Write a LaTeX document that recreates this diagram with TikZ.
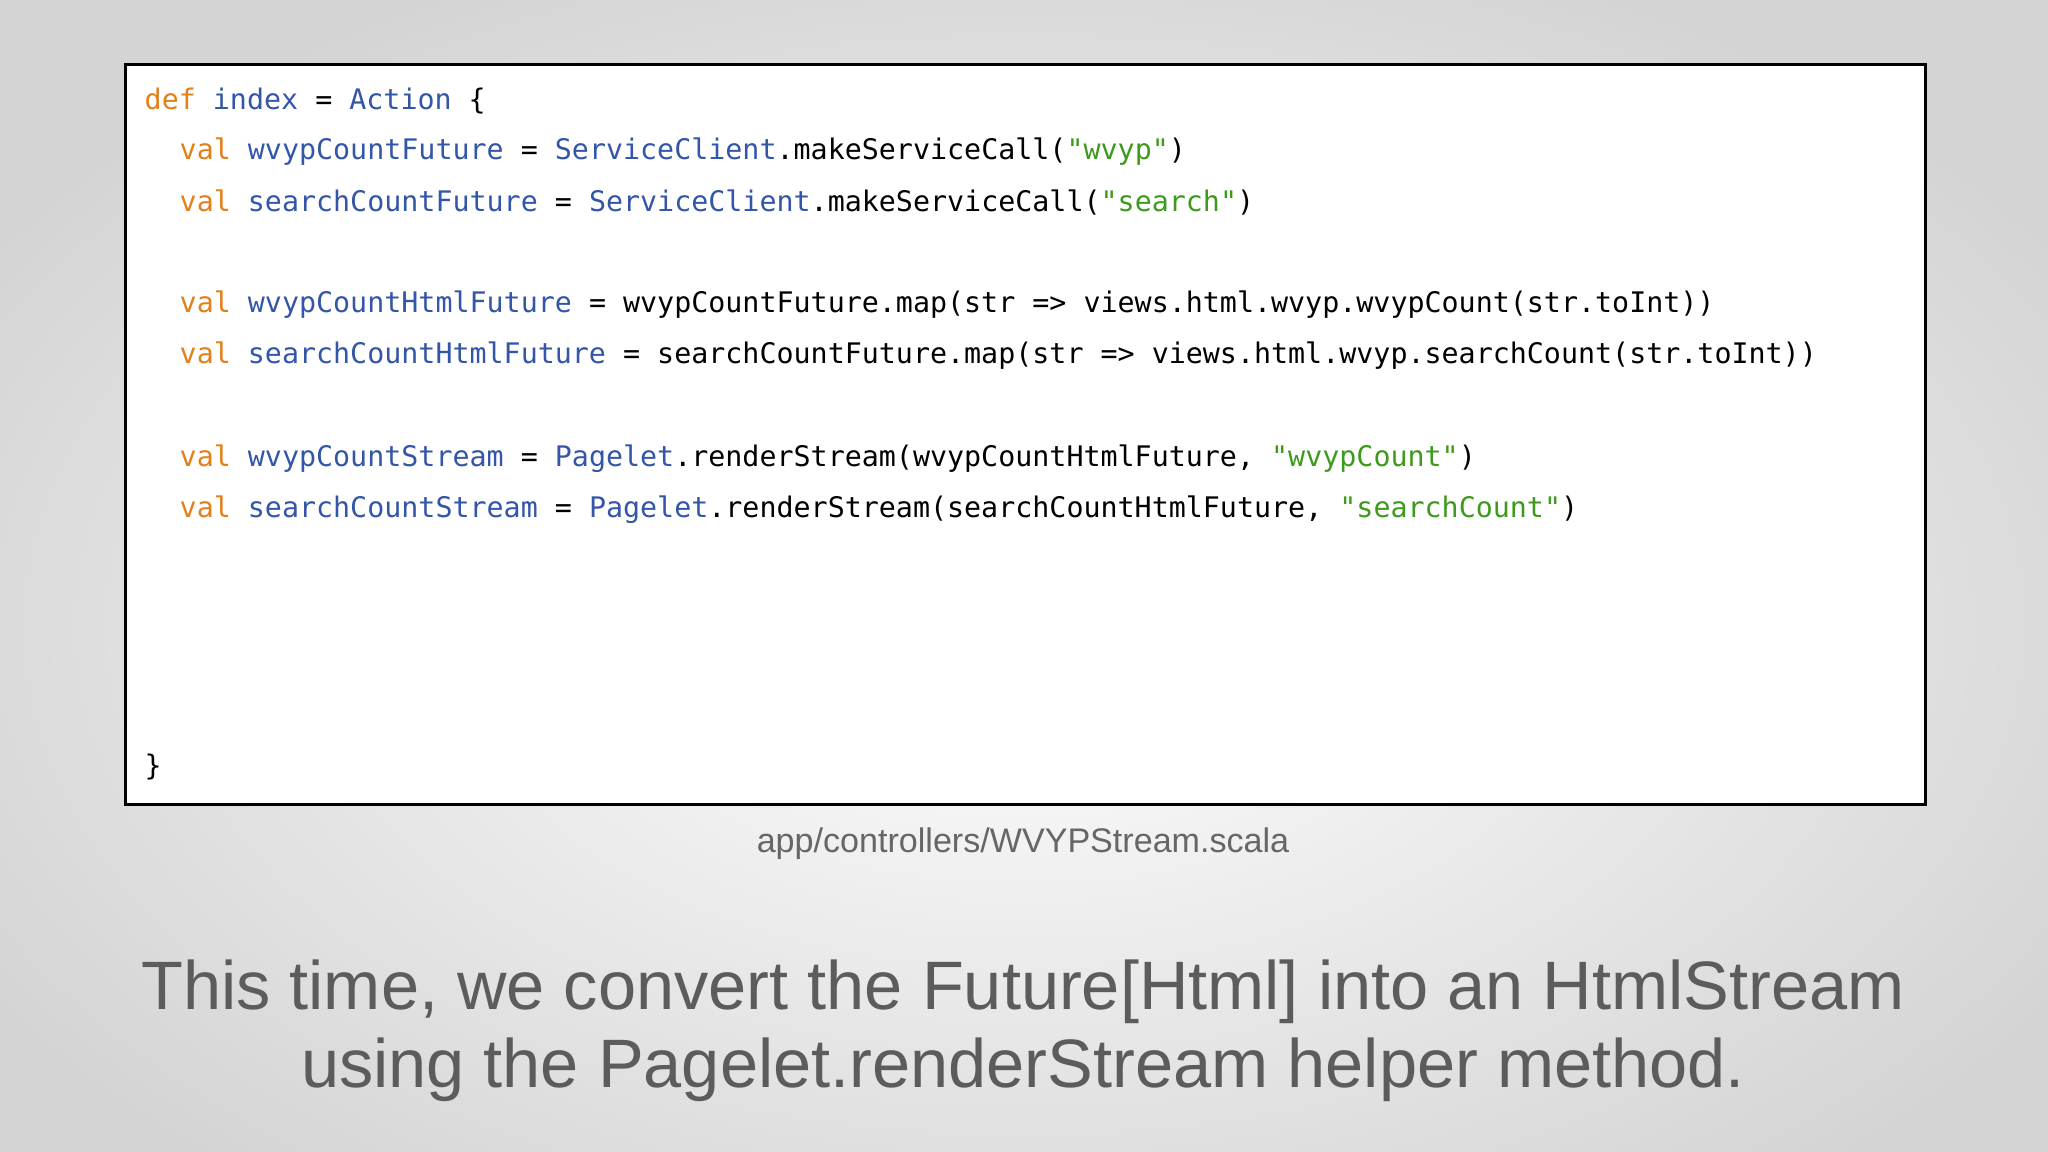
\documentclass[tikz,border=0pt]{standalone}
\usepackage{fontspec}
\setmainfont{Liberation Sans}
\newfontfamily\codefont{DejaVu Sans Mono}
\definecolor{kwc}{HTML}{E2801A}
\definecolor{idc}{HTML}{3456A8}
\definecolor{stc}{HTML}{3E9A1C}
\definecolor{txc}{HTML}{666666}
\newcommand\kwd[1]{\textcolor{kwc}{#1}}
\newcommand\idf[1]{\textcolor{idc}{#1}}
\newcommand\strg[1]{\textcolor{stc}{#1}}
\tikzset{code/.style={anchor=west,inner sep=0pt,font=\codefont\fontsize{8.06}{10}\selectfont,text=black}}
\begin{document}
\begin{tikzpicture}
\useasboundingbox (0,0) rectangle (20.48,-11.52);
\shade[inner color=white,outer color=black!17] (-2,1) rectangle (22.48,-13.52);
\node[draw=black,line width=0.8pt,fill=white,minimum width=18cm,minimum height=7.4cm,inner sep=0pt,anchor=north west] (box) at (1.24,-0.63) {};
\node[code] (l1) at (1.44,-1.006) {\kwd{def} \idf{index} = \idf{Action} \{};
\node[code] (l2) at (1.79,-1.515) {\kwd{val} \idf{wvypCountFuture} = \idf{ServiceClient}.makeServiceCall(\strg{"wvyp"})};
\node[code] (l3) at (1.79,-2.024) {\kwd{val} \idf{searchCountFuture} = \idf{ServiceClient}.makeServiceCall(\strg{"search"})};
\node[code] (l4) at (1.79,-3.043) {\kwd{val} \idf{wvypCountHtmlFuture} = wvypCountFuture.map(str => views.html.wvyp.wvypCount(str.toInt))};
\node[code] (l5) at (1.79,-3.552) {\kwd{val} \idf{searchCountHtmlFuture} = searchCountFuture.map(str => views.html.wvyp.searchCount(str.toInt))};
\node[code] (l6) at (1.79,-4.584) {\kwd{val} \idf{wvypCountStream} = \idf{Pagelet}.renderStream(wvypCountHtmlFuture, \strg{"wvypCount"})};
\node[code] (l7) at (1.79,-5.094) {\kwd{val} \idf{searchCountStream} = \idf{Pagelet}.renderStream(searchCountHtmlFuture, \strg{"searchCount"})};
\node[code] (l8) at (1.44,-7.666) {\}};
\node[text=txc,font=\fontsize{9.7}{11}\selectfont,inner sep=0pt] (cap) at (10.23,-8.44) {app/controllers/WVYPStream.scala};
\node[text=txc!90!black,font=\fontsize{19.5}{23}\selectfont,inner sep=0pt,align=center] (t1) at (10.23,-9.92) {This time, we convert the Future[Html] into an HtmlStream};
\node[text=txc!90!black,font=\fontsize{19.5}{23}\selectfont,inner sep=0pt,align=center] (t2) at (10.23,-10.70) {using the Pagelet.renderStream helper method.};
\end{tikzpicture}
\end{document}
